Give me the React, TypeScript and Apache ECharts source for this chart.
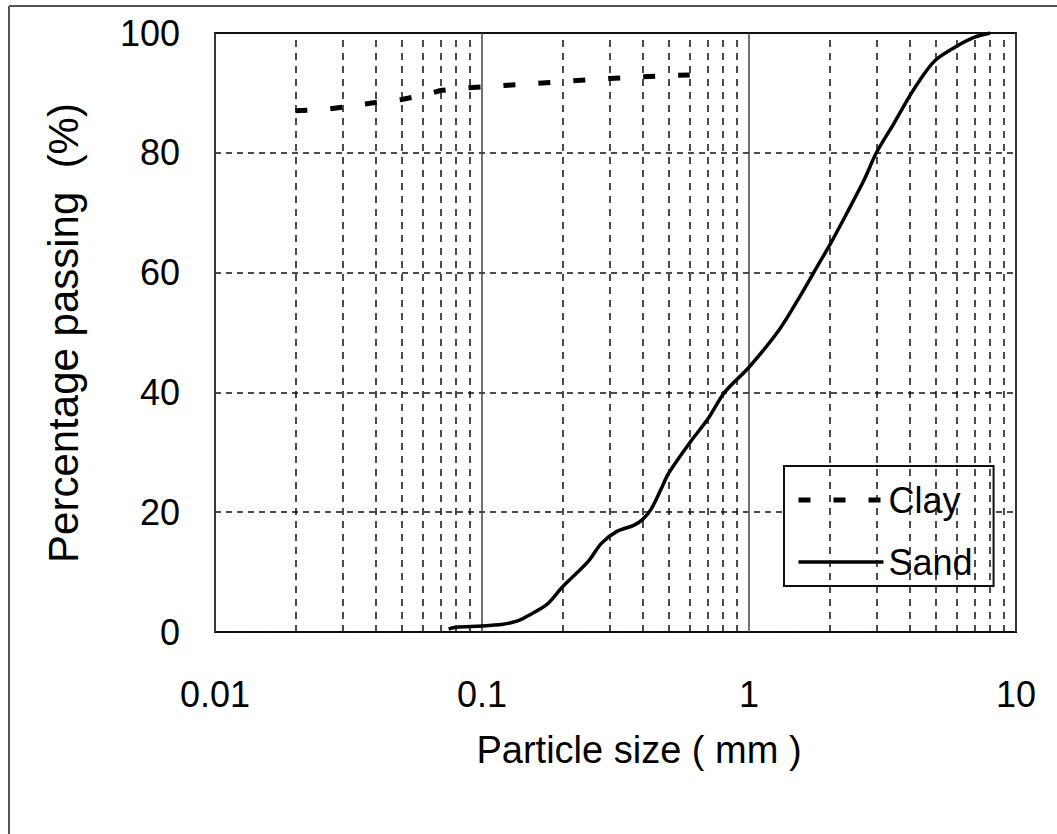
import React, { useEffect, useRef } from 'react';
import * as echarts from 'echarts';

// Clay gradation curve (particle size mm, % passing)
const clayX = [0.02, 0.025, 0.03, 0.04, 0.05, 0.06, 0.07, 0.08, 0.1, 0.15, 0.2, 0.3, 0.4, 0.5, 0.6];
const clayY = [87.0, 87.2, 87.6, 88.4, 88.9, 89.6, 90.4, 90.7, 91.0, 91.5, 91.9, 92.4, 92.7, 92.9, 93.0];

// Sand gradation curve
const sandX = [0.075, 0.08, 0.1, 0.12, 0.135, 0.15, 0.175, 0.2, 0.25, 0.28, 0.32, 0.37, 0.4, 0.43, 0.47, 0.5, 0.6, 0.7, 0.81, 1.0, 1.3, 1.55, 1.8, 2.0, 2.33, 2.7, 3.0, 3.5, 4.0, 4.5, 5.0, 6.0, 7.0, 8.0];
const sandY = [0.5, 0.8, 1.0, 1.3, 1.8, 2.8, 4.6, 7.5, 11.8, 14.8, 16.8, 17.8, 18.8, 20.5, 24.0, 26.5, 31.6, 35.5, 40.0, 44.2, 50.5, 56.0, 61.0, 64.5, 70.0, 75.5, 80.0, 85.0, 89.5, 93.0, 95.5, 97.8, 99.3, 100.0];

// Axis ticks
const xTickLabels = ['0.01', '0.1', '1', '10'];
const minorGridX = [
  0.02, 0.03, 0.04, 0.05, 0.06, 0.07, 0.08, 0.09,
  0.2, 0.3, 0.4, 0.5, 0.6, 0.7, 0.8, 0.9,
  2, 3, 4, 5, 6, 7, 8, 9,
];
const yMin = 0;
const yMax = 100;
const yStep = 20;

const FONT = '"Liberation Sans", Arial, sans-serif';

const clayLine = { color: '#000', width: 5, type: [12, 23], cap: 'butt' };
const sandLine = { color: '#000', width: 3.5, type: 'solid' };

export default function App() {
  const ref = useRef<HTMLDivElement>(null);

  useEffect(() => {
    if (!ref.current) return;
    const chart = echarts.init(ref.current, null, { renderer: 'svg' });
    chart.setOption({
      animation: false,
      backgroundColor: '#ffffff',
      grid: {
        left: 215,
        top: 33,
        right: 41,
        bottom: 202,
        show: true,
        borderColor: '#111',
        borderWidth: 2,
        backgroundColor: 'transparent',
      },
      xAxis: {
        type: 'log',
        logBase: 10,
        min: 0.01,
        max: 10,
        axisLine: { show: false },
        axisTick: { show: false },
        splitLine: { show: true, lineStyle: { color: '#444', width: 1.5, type: 'solid' } },
        axisLabel: {
          fontSize: 36,
          color: '#000',
          fontFamily: FONT,
          margin: 44,
          formatter: (v: number) => {
            const k = Math.round(Math.log10(v)) + 2;
            return xTickLabels[k] ?? String(v);
          },
        },
      },
      yAxis: {
        type: 'value',
        min: yMin,
        max: yMax,
        interval: yStep,
        axisLine: { show: false },
        axisTick: { show: false },
        splitLine: { show: true, lineStyle: { color: '#111', width: 1.5, type: [6, 5] } },
        axisLabel: { fontSize: 36, color: '#000', fontFamily: FONT, margin: 35 },
      },
      legend: {
        data: [
          { name: 'Clay', lineStyle: clayLine, itemStyle: { opacity: 0 } },
          { name: 'Sand', lineStyle: sandLine, itemStyle: { opacity: 0 } },
        ],
        orient: 'vertical',
        left: 784,
        top: 466,
        itemWidth: 85,
        itemHeight: 14,
        itemGap: 26,
        padding: [16, 21, 6, 12],
        backgroundColor: '#fff',
        borderColor: '#111',
        borderWidth: 2,
        borderRadius: 0,
        itemStyle: { opacity: 0 },
        textStyle: { fontSize: 36, color: '#000', fontFamily: FONT },
      },
      graphic: [
        { type: 'line', shape: { x1: 9, y1: 6, x2: 1057, y2: 6 }, style: { stroke: '#555', lineWidth: 2 } },
        { type: 'line', shape: { x1: 9, y1: 6, x2: 9, y2: 834 }, style: { stroke: '#555', lineWidth: 2 } },
        {
          type: 'text',
          x: 63,
          y: 333,
          rotation: Math.PI / 2,
          style: {
            text: 'Percentage passing  (%)',
            fontSize: 42,
            fontFamily: FONT,
            fill: '#000',
            align: 'center',
            verticalAlign: 'middle',
          },
        },
        {
          type: 'text',
          x: 639,
          y: 750,
          style: {
            text: 'Particle size ( mm )',
            fontSize: 38,
            fontFamily: FONT,
            fill: '#000',
            align: 'center',
            verticalAlign: 'middle',
          },
        },
      ],
      series: [
        {
          name: 'minorGrid',
          type: 'line',
          data: [],
          silent: true,
          z: 1,
          markLine: {
            silent: true,
            symbol: ['none', 'none'],
            label: { show: false },
            lineStyle: { type: [7, 6], color: '#111', width: 1.5 },
            data: minorGridX.map((v) => ({ xAxis: v })),
          },
        },
        {
          name: 'Clay',
          type: 'line',
          z: 3,
          symbol: 'none',
          showSymbol: false,
          data: clayX.map((x, i) => [x, clayY[i]]),
          lineStyle: clayLine,
          itemStyle: { color: '#000' },
        },
        {
          name: 'Sand',
          type: 'line',
          z: 3,
          symbol: 'none',
          showSymbol: false,
          smooth: 0.3,
          data: sandX.map((x, i) => [x, sandY[i]]),
          lineStyle: sandLine,
          itemStyle: { color: '#000' },
        },
      ],
    });
    return () => chart.dispose();
  }, []);

  return (
    <div
      ref={ref}
      style={{ position: 'absolute', left: 0, top: 0, width: 1057, height: 834, background: '#fff' }}
    />
  );
}
